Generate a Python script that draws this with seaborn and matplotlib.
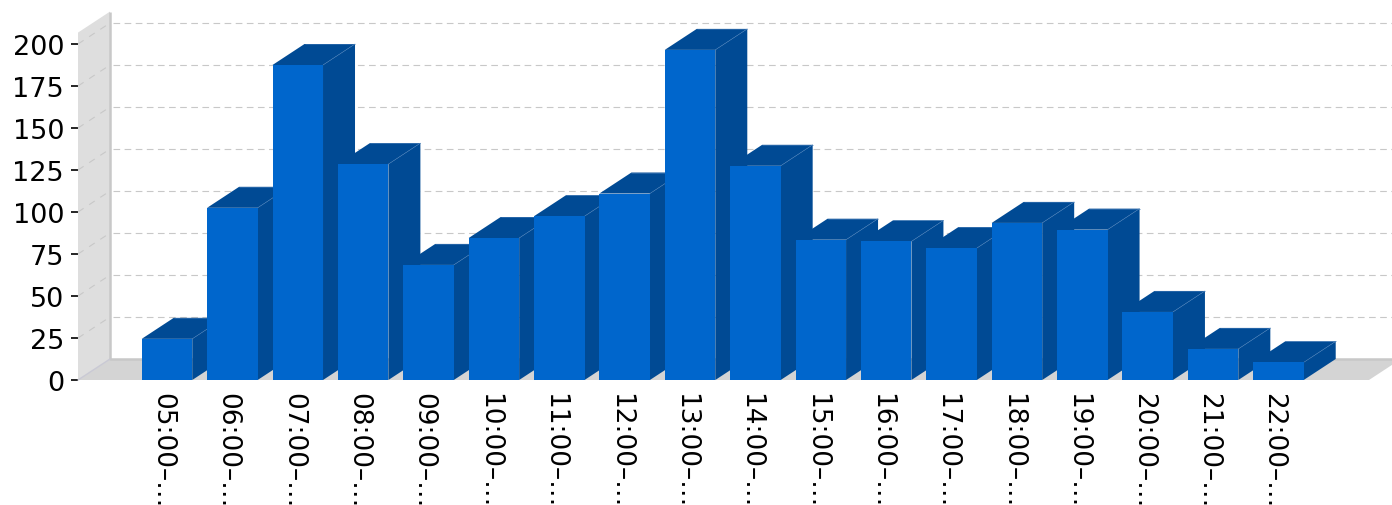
#!/usr/bin/env python3
"""3D-looking hourly bar chart, drawn with a seaborn barplot plus depth faces."""

import matplotlib
matplotlib.use('Agg')
import matplotlib.pyplot as plt
from matplotlib.patches import Polygon
from matplotlib.transforms import ScaledTranslation
import pandas as pd
import seaborn as sns

hours = ['05:00–…', '06:00–…', '07:00–…', '08:00–…', '09:00–…', '10:00–…',
         '11:00–…', '12:00–…', '13:00–…', '14:00–…', '15:00–…', '16:00–…',
         '17:00–…', '18:00–…', '19:00–…', '20:00–…', '21:00–…', '22:00–…']
counts = [24.5, 102.5, 187.5, 128.5, 68.5, 84.5, 97.5, 111, 196.5, 127.5,
          83.5, 82.5, 78.5, 93.5, 89.5, 40.5, 18.5, 10.5]
y_ticks = [0, 25, 50, 75, 100, 125, 150, 175, 200]

FRONT = '#0066cc'
DARK = '#004a94'
EDGE = '#3f78b5'
WALL = '#dedede'
FLOOR = '#d4d4d4'
LINE = '#c8c8c8'

W, H = 1392, 506
BASE = 381            # pixel row of the zero line
CENTER0 = 167.0       # pixel column of the first bar centre
PX_X = 65.38          # pixels per category
PX_Y = 1.68           # pixels per count
DEPTH_X = 32 / PX_X   # depth offset in data units
DEPTH_Y = 21 / PX_Y


def add_face(ax, points, color, z):
    ax.add_patch(Polygon(points, closed=True, facecolor=color, edgecolor='none',
                         clip_on=False, zorder=z))


def main():
    sns.set_style('white')
    plt.rcParams['font.family'] = ['DejaVu Sans']

    fig = plt.figure(figsize=(W / 100, H / 100), dpi=100)
    ax = fig.add_axes([78 / W, (H - BASE) / H, (W - 78) / W, BASE / H])

    df = pd.DataFrame({'hour': hours, 'count': counts})
    sns.barplot(data=df, x='hour', y='count', color=FRONT, saturation=1,
                width=50.5 / PX_X, linewidth=0, edgecolor='none', ax=ax)

    x0 = (78 - CENTER0) / PX_X
    x1 = (1369 - CENTER0) / PX_X
    wall_top = 206.8
    ax.set_xlim(x0, (W - CENTER0) / PX_X)
    ax.set_ylim(0, BASE / PX_Y)

    # floor and left wall
    add_face(ax, [(x0, 0), (x1, 0), (x1 + DEPTH_X, DEPTH_Y), (x0 + DEPTH_X, DEPTH_Y)], FLOOR, 0.5)
    add_face(ax, [(x0, 0), (x0 + DEPTH_X, DEPTH_Y), (x0 + DEPTH_X, wall_top + DEPTH_Y), (x0, wall_top)], WALL, 0.6)
    ax.plot([x0 + DEPTH_X] * 2, [DEPTH_Y, wall_top + DEPTH_Y], color=LINE, lw=1.8,
            clip_on=False, zorder=0.8, solid_capstyle='butt')
    ax.plot([x0 + DEPTH_X, x1 + DEPTH_X], [DEPTH_Y, DEPTH_Y], color=LINE, lw=1.8,
            clip_on=False, zorder=0.8)
    ax.plot([x0, x0 + DEPTH_X], [0, DEPTH_Y], color='#c9c9d4', lw=1, clip_on=False, zorder=0.8)

    # dashed grid on the wall and back plane
    for v in y_ticks[1:]:
        ax.plot([x0, x0 + DEPTH_X], [v, v + DEPTH_Y], color=LINE, lw=0.8,
                dashes=(6, 6), clip_on=False, zorder=0.7)
        ax.plot([x0 + DEPTH_X + 3 / PX_X, x1 + 2 * DEPTH_X], [v + DEPTH_Y] * 2, color=LINE, lw=0.8,
                dashes=(6, 4), clip_on=False, zorder=0.7)

    # depth faces for each bar, painted left to right
    for i, bar in enumerate(ax.patches[:len(counts)]):
        left = bar.get_x()
        right = left + bar.get_width()
        top = bar.get_height()
        z = 2 + i * 0.1
        add_face(ax, [(right, 0), (right + DEPTH_X, DEPTH_Y), (right + DEPTH_X, top + DEPTH_Y), (right, top)], DARK, z)
        add_face(ax, [(left, top), (right, top), (right + DEPTH_X, top + DEPTH_Y), (left + DEPTH_X, top + DEPTH_Y)], DARK, z)
        ax.plot([right, right + DEPTH_X], [top, top + DEPTH_Y], color=EDGE, lw=0.4, clip_on=False, zorder=z + 0.01)
        ax.plot([left + DEPTH_X, right + DEPTH_X], [top + DEPTH_Y, top + DEPTH_Y], color=EDGE, lw=0.4,
                clip_on=False, zorder=z + 0.01)
        bar.set_zorder(z + 0.05)

    ax.set_xlabel('')
    ax.set_ylabel('')
    ax.set_yticks(y_ticks)
    sns.despine(ax=ax, left=True, bottom=True, top=True, right=True)
    ax.patch.set_alpha(0)
    ax.tick_params(axis='y', left=True, length=5, width=1.2, color='black', pad=5,
                   labelsize=19.5, labelcolor='black')
    ax.tick_params(axis='x', bottom=False, pad=5, labelsize=19, labelcolor='black')
    # nudge the rotated labels left so they sit under the bar centres
    shift = ScaledTranslation(-5 / 100, 0, fig.dpi_scale_trans)
    for label in ax.get_xticklabels():
        label.set(rotation=-90, rotation_mode='anchor', ha='left', va='center')
        label.set_transform(label.get_transform() + shift)

    fig.savefig('out.png', dpi=100, facecolor='white')
    plt.close(fig)


if __name__ == '__main__':
    main()
